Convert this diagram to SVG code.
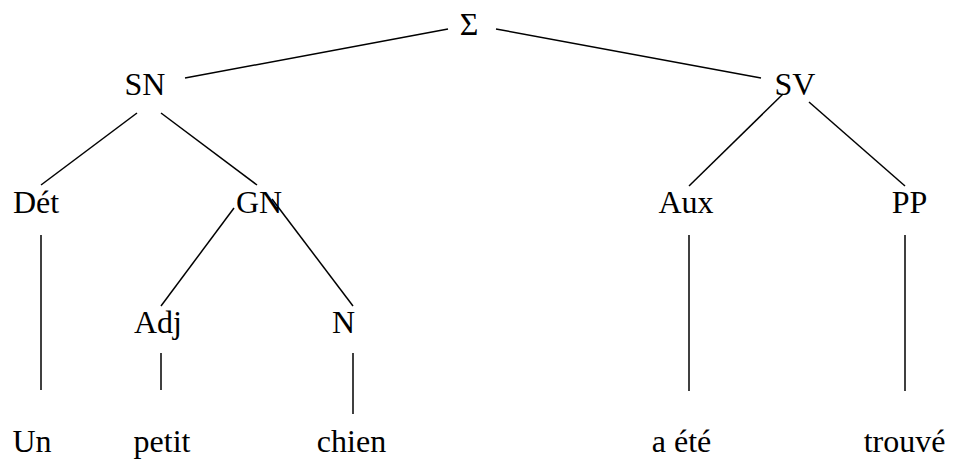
<svg xmlns="http://www.w3.org/2000/svg" width="956" height="461" viewBox="0 0 956 461">
<style>
.t{font-family:'Liberation Serif','DejaVu Serif',serif;font-size:32px;fill:#000;text-anchor:middle}
line{stroke:#000;stroke-width:1.5;stroke-linecap:butt}
</style>
<rect width="956" height="461" fill="#fff"/>
<g id="connectors">
<line x1="185" y1="78" x2="448" y2="29"/>
<line x1="496" y1="29" x2="761" y2="78"/>
<line x1="137" y1="113" x2="41" y2="185"/>
<line x1="161" y1="113" x2="257" y2="185"/>
<line x1="783" y1="94" x2="689" y2="186"/>
<line x1="809" y1="102" x2="905" y2="186"/>
<line x1="234" y1="208" x2="161" y2="306"/>
<line x1="272" y1="199" x2="353" y2="306"/>
<line x1="41" y1="235" x2="41" y2="390"/>
<line x1="161" y1="353" x2="161" y2="390"/>
<line x1="353" y1="353" x2="353" y2="414"/>
<line x1="689" y1="235" x2="689" y2="391"/>
<line x1="905" y1="235" x2="905" y2="391"/>
</g>
<g class="t" font-family="Liberation Serif, serif">
<g id="sigma"><text x="469" y="35">Σ</text></g>
<g id="sn"><text x="145" y="95">SN</text></g>
<g id="sv"><text x="795" y="95">SV</text></g>
<g id="det"><text x="36" y="213">Dét</text></g>
<g id="gn"><text x="259" y="213">GN</text></g>
<g id="aux"><text x="686" y="213">Aux</text></g>
<g id="pp"><text x="909.5" y="213">PP</text></g>
<g id="adj"><text x="158" y="333">Adj</text></g>
<g id="n"><text x="343.5" y="333">N</text></g>
<g id="un"><text x="32" y="452">Un</text></g>
<g id="petit"><text x="162" y="452">petit</text></g>
<g id="chien"><text x="351.5" y="452">chien</text></g>
<g id="aete"><text x="681.5" y="452">a été</text></g>
<g id="trouve"><text x="904.5" y="452">trouvé</text></g>
</g>
</svg>
